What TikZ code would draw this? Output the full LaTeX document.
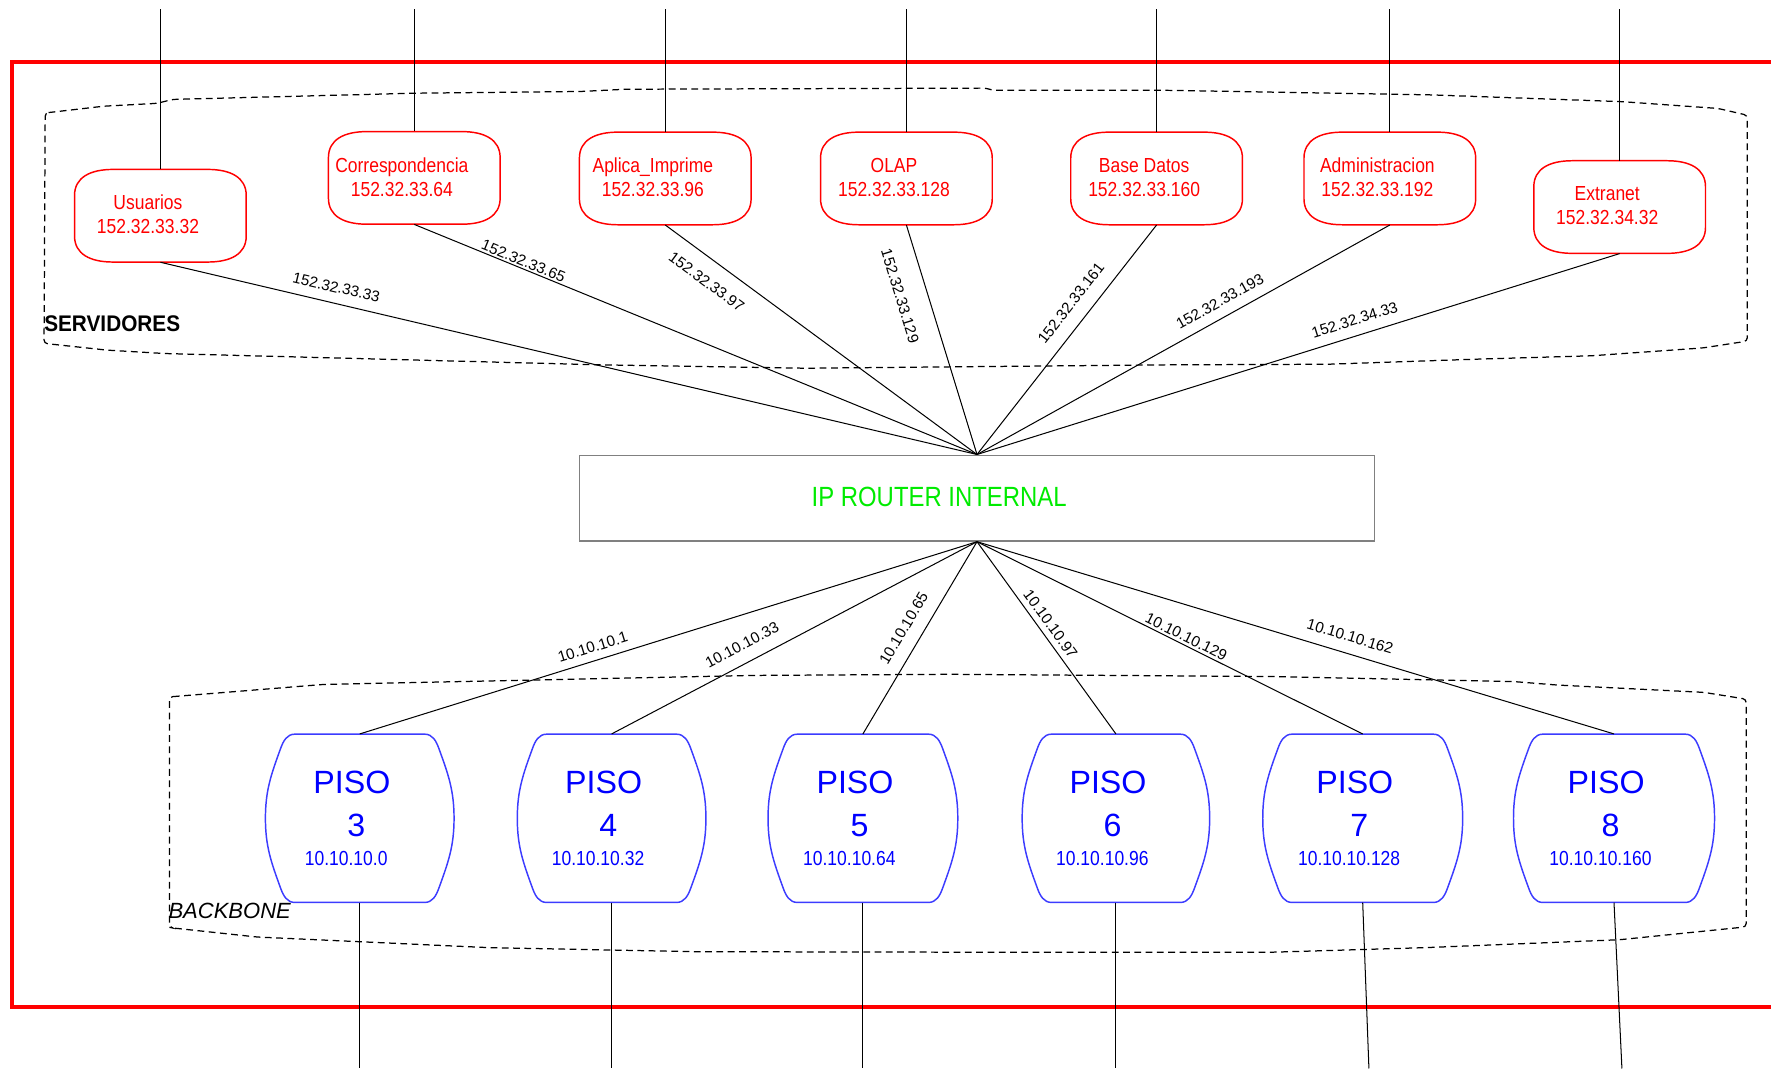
\documentclass[tikz,border=0pt]{standalone}
\usepackage{fontspec}
\setmainfont{Liberation Sans}
\newfontfamily\narrowsans[FakeStretch=0.86]{Liberation Sans}
\newfontfamily\titlesans[FakeStretch=0.92]{Liberation Sans}
\definecolor{srvred}{RGB}{255,0,0}
\definecolor{framered}{RGB}{255,0,0}
\definecolor{pisoblue}{RGB}{0,0,255}
\definecolor{pisoedge}{RGB}{60,60,255}
\definecolor{routergreen}{RGB}{0,235,0}
\definecolor{routeredge}{RGB}{128,128,128}

\begin{document}
\begin{tikzpicture}[x=1pt,y=-1pt,
  wire/.style={draw=black,line width=0.9pt},
  zone/.style={draw=black,line width=1.1pt,dash pattern=on 6pt off 4pt,rounded corners=3pt},
  srvbox/.style={inner sep=0pt,minimum width=152pt,minimum height=82pt},
  srvoutline/.style={draw=srvred,line width=1.3pt},
  srvtext/.style={text=srvred,inner sep=0pt,align=center,font=\narrowsans\fontsize{18}{21.3}\selectfont},
  pisobox/.style={inner sep=0pt,minimum height=149pt},
  pisooutline/.style={draw=pisoedge,line width=1.3pt},
  pisobig/.style={text=pisoblue,inner sep=0pt,font=\fontsize{28.5}{30}\selectfont},
  pisosmall/.style={text=pisoblue,inner sep=0pt,font=\narrowsans\fontsize{18}{20}\selectfont},
  lbl/.style={sloped,inner sep=0pt,font=\fontsize{13.5}{14}\selectfont},
]
\useasboundingbox (0,0) rectangle (1568,946);

% dashed zone around the servers
\draw[zone] (40,100) -- (92,94) -- (139,91.5) -- (153,88) -- (368,82.5) -- (514,81)
  -- (554,79) -- (873,78) -- (879,80) -- (1036,80) -- (1267,84) -- (1436,90)
  -- (1521,96) -- (1547,102) -- (1547,302) -- (1508,308) -- (1409,315) -- (1307,318)
  -- (1175,322.5) -- (1036,323) -- (713,326) -- (531,323) -- (146,313) -- (95,310)
  -- (39,304) -- cycle;
\node[anchor=base west,inner sep=0pt,font=\titlesans\bfseries\fontsize{20}{22}\selectfont]
  (srvzone) at (39,293.6) {SERVIDORES};

% dashed zone around the floors
\draw[zone] (150,617) -- (286,606) -- (666,598) -- (841,597) -- (1128.5,599)
  -- (1341,603.5) -- (1378.6,606.5) -- (1508.6,613) -- (1546,619) -- (1546,820.6)
  -- (1434,832) -- (1262,839) -- (1128,843) -- (841,843) -- (616,842.6) -- (433,839)
  -- (227.6,829.6) -- (153,821.6) -- (150,821) -- cycle;
\node[anchor=base west,inner sep=0pt,font=\itshape\fontsize{19.5}{22}\selectfont]
  (bbzone) at (149,813) {BACKBONE};

% outer frame
\draw[draw=framered,line width=3.5pt] (11,54.6) rectangle (1590,891.8);

% servers
\foreach \n/\cx/\cy/\a/\b in {
  usu/142/191/Usuarios/152.32.33.32,
  cor/366.8/157.5/Correspondencia/152.32.33.64,
  apl/589/158/Aplica\_Imprime/152.32.33.96,
  olap/802.5/158/OLAP/152.32.33.128,
  bdat/1024/158/Base Datos/152.32.33.160,
  adm/1230.5/158/Administracion/152.32.33.192,
  ext/1434/183.3/Extranet/152.32.34.32}{
  \node[srvbox] (\n) at (\cx,\cy) {};
  \draw[srvoutline,shift={(\n.center)}] (-42,-41) -- (42,-41)
    .. controls (62,-41) and (76,-34) .. (76,-18) -- (76,18)
    .. controls (76,34) and (62,41) .. (42,41) -- (-42,41)
    .. controls (-62,41) and (-76,34) .. (-76,18) -- (-76,-18)
    .. controls (-76,-34) and (-62,-41) .. (-42,-41) -- cycle;
  \node[srvtext] at ([shift={(-11,-1)}]\n.center) {\a\\\b};
  \coordinate (top\n) at (\cx,8);
  \draw[wire] (top\n) -- (\n.north);
}

% router
\node[draw=routeredge,line width=1.2pt,inner sep=0pt,minimum width=704pt,minimum height=76pt]
  (router) at (865,441) {};
\node[text=routergreen,inner sep=0pt,font=\narrowsans\fontsize{24.6}{26}\selectfont]
  (routername) at (831.5,440) {IP ROUTER INTERNAL};

% floors
\foreach \n/\cx/\hw/\num/\ip/\bx in {
  p3/318.5/83.5/3/10.10.10.0/318.5,
  p4/541.5/83.5/4/10.10.10.32/541.5,
  p5/764/84/5/10.10.10.64/764,
  p6/988/83/6/10.10.10.96/988,
  p7/1206.5/88.5/7/10.10.10.128/1212,
  p8/1429/89/8/10.10.10.160/1436}{
  \pgfmathsetmacro\fl{\hw-26}
  \pgfmathsetmacro\sh{\hw-13.5}
  \node[pisobox,minimum width=2*\hw] (\n) at (\cx,724.5) {};
  \draw[pisooutline,shift={(\n.center)}] (-\fl,-74.5) -- (\fl,-74.5)
    to[out=0,in=110] (\sh,-62) to[out=-70,in=90] (\hw,0)
    to[out=-90,in=70] (\sh,62) to[out=-110,in=0] (\fl,74.5) -- (-\fl,74.5)
    to[out=180,in=-70] (-\sh,62) to[out=110,in=-90] (-\hw,0)
    to[out=90,in=-110] (-\sh,-62) to[out=70,in=180] (-\fl,-74.5) -- cycle;
  \node[pisobig] at ([shift={(-7,-31.5)}]\n.center) {PISO};
  \node[pisobig] at ([shift={(-3,6.5)}]\n.center) {\num};
  \node[pisosmall] at ([shift={(-12,35.5)}]\n.center) {\ip};
  \coordinate (bot\n) at (\bx,946);
  \draw[wire] (\n.south) -- (bot\n);
}

% server links
\draw[wire] (usu.south) -- node[lbl,pos=0.211,above,outer sep=9.3pt]{152.32.33.33} (router.north);
\draw[wire] (cor.south) -- node[lbl,pos=0.189,above,outer sep=2pt]{152.32.33.65} (router.north);
\draw[wire] (apl.south) -- node[lbl,pos=0.173,below,outer sep=14pt]{152.32.33.97} (router.north);
\draw[wire] (olap.south) -- node[lbl,pos=0.275,below,outer sep=19pt]{152.32.33.129} (router.north);
\draw[wire] (bdat.south) -- node[lbl,pos=0.392,above,outer sep=12.3pt]{152.32.33.161} (router.north);
\draw[wire] (adm.south) -- node[lbl,pos=0.393,above,outer sep=9.3pt]{152.32.33.193} (router.north);
\draw[wire] (ext.south) -- node[lbl,pos=0.405,above,outer sep=9.3pt]{152.32.34.33} (router.north);

% floor links
\draw[wire] (router.south) -- node[lbl,pos=0.616,above,outer sep=7.3pt]{10.10.10.1} (p3.north);
\draw[wire] (router.south) -- node[lbl,pos=0.62,above,outer sep=11.3pt]{10.10.10.33} (p4.north);
\draw[wire] (router.south) -- node[lbl,pos=0.5,above,outer sep=12pt]{10.10.10.65} (p5.north);
\draw[wire] (router.south) -- node[lbl,pos=0.463,above,outer sep=5.3pt]{10.10.10.97} (p6.north);
\draw[wire] (router.south) -- node[lbl,pos=0.533,above,outer sep=2.6pt]{10.10.10.129} (p7.north);
\draw[wire] (router.south) -- node[lbl,pos=0.578,above,outer sep=10.3pt]{10.10.10.162} (p8.north);
\end{tikzpicture}
\end{document}
